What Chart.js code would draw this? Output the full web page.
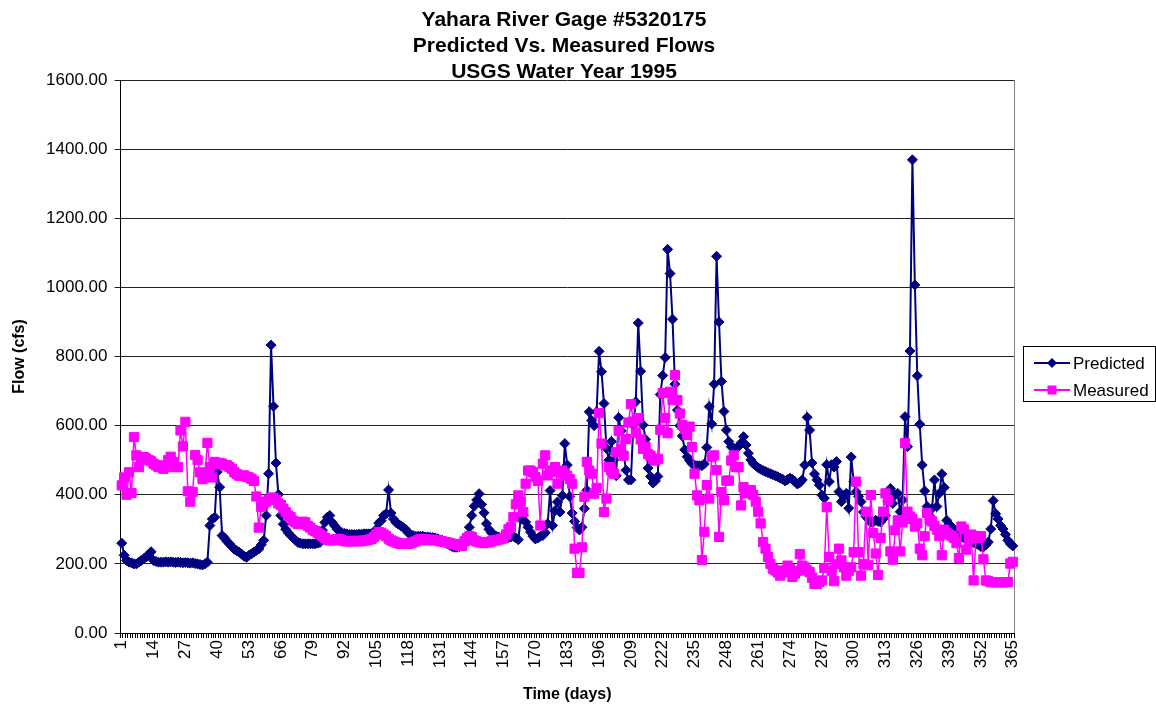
<!DOCTYPE html>
<html>
<head>
<meta charset="utf-8">
<script src="https://cdn.jsdelivr.net/npm/chart.js@4.4.0/dist/chart.umd.min.js"></script>
<style>
html,body{margin:0;padding:0;background:#ffffff;}
canvas{display:block;}
</style>
</head>
<body>
<canvas id="c" width="1156" height="708"></canvas>
<script>
// ---------- data ----------
const titleLines = ["Yahara River Gage #5320175", "Predicted Vs. Measured Flows", "USGS Water Year 1995"];
const xTitle = "Time (days)";
const yTitle = "Flow (cfs)";
const seriesNames = ["Predicted", "Measured"];

// categories: day numbers 1..365
const days = [];
for (let d = 1; d <= 365; d++) days.push(String(d));

const yTickMin = 0;
const yTickMax = 1600;
const yTickStep = 200;
const xLabelEvery = 13;

const predicted = [
260,225,210,205,203,200,200,205,210,215,
220,228,235,210,207,205,205,205,206,205,
206,205,204,205,204,203,204,203,202,203,
201,200,198,197,200,205,311,330,335,466,
422,282,275,265,258,250,242,238,234,228,
222,219,225,229,234,239,243,255,268,340,
461,833,656,492,401,340,315,300,290,282,
275,268,262,260,258,258,258,258,258,258,
260,262,297,320,335,340,320,310,300,295,
290,288,287,285,285,285,285,286,286,287,
287,287,287,290,300,318,325,340,345,414,
347,330,320,315,310,305,300,290,285,282,
280,280,280,280,278,278,277,276,275,273,
270,268,265,258,254,250,248,248,250,252,
258,280,306,340,367,385,403,372,348,316,
300,290,285,280,278,275,275,275,276,278,
280,275,270,330,340,321,306,292,280,272,
275,280,282,290,316,412,311,354,379,350,
398,548,486,395,347,323,305,298,306,360,
413,640,615,600,640,815,756,664,534,500,
554,500,455,623,585,520,471,443,443,602,
669,897,757,602,560,477,453,434,440,453,
690,745,797,1110,1040,908,720,645,600,570,
530,510,499,490,485,484,484,484,489,537,
655,605,720,1090,900,728,641,587,554,539,
535,534,540,550,568,544,520,501,490,484,
478,474,470,467,464,461,458,455,452,448,
445,440,444,448,444,438,431,435,443,486,
624,587,492,460,443,428,399,390,487,438,
487,480,496,409,380,395,404,361,509,438,
409,395,380,350,337,330,320,321,326,323,
321,330,340,380,418,375,400,404,351,385,
626,539,816,1369,1007,744,604,486,411,366,
340,360,443,366,404,460,421,326,315,307,
300,295,288,278,275,272,268,265,262,258,
255,250,249,255,263,301,383,345,330,311,
301,285,268,258,252
];

const measured = [
427,450,400,465,405,567,514,480,504,509,
505,500,497,490,485,480,485,475,480,500,
510,495,480,480,586,540,611,410,380,408,
515,500,465,445,460,550,480,450,495,490,
492,490,485,485,480,475,465,460,455,455,
456,452,450,446,440,395,305,365,375,380,
385,392,390,385,375,370,360,350,340,335,
325,320,315,318,322,320,310,305,298,295,
290,285,280,275,270,268,268,270,272,272,
268,266,265,265,265,267,266,265,266,268,
268,270,272,277,285,292,290,285,280,273,
268,265,262,260,258,258,258,258,260,262,
265,268,272,272,270,268,270,270,268,268,
265,265,263,262,260,258,257,255,252,252,
265,275,280,278,268,265,262,262,260,262,
262,265,268,268,270,272,275,285,300,306,
335,372,398,380,350,432,470,470,465,451,
440,311,490,514,456,466,470,480,432,465,
470,461,455,445,432,244,174,174,248,394,
495,470,461,403,420,636,548,350,389,480,
470,461,523,585,532,513,561,609,662,612,
578,622,560,533,538,518,513,504,499,504,
588,694,622,578,698,674,746,674,635,602,
590,573,597,538,461,398,384,211,293,428,
389,509,514,471,278,408,384,441,441,499,
514,480,480,369,422,404,413,413,399,380,
351,317,263,244,220,200,186,181,175,166,
175,181,195,185,162,172,180,228,195,190,
181,176,160,142,142,148,152,188,364,220,
180,150,200,244,210,190,166,180,190,234,
438,234,166,200,351,196,399,289,230,168,
275,351,404,384,236,212,297,326,236,320,
549,351,337,330,308,317,244,225,280,347,
328,323,310,299,280,225,299,290,285,280,
275,260,217,308,300,241,270,285,152,280,
275,280,213,152,150,147,147,147,147,147,
147,147,147,201,206
];

// ---------- styling ----------
const FONT = "'Liberation Sans', Arial, Helvetica, sans-serif";
const NAVY = "#000080";
const MAGENTA = "#FF00FF";

const overlay = {
  id: 'overlay',
  beforeDatasetsDraw(chart) {
    const {ctx, chartArea: a} = chart;
    ctx.save();
    ctx.strokeStyle = '#808080';
    ctx.lineWidth = 1;
    ctx.beginPath();
    ctx.moveTo(Math.round(a.right) + 0.5, a.top);
    ctx.lineTo(Math.round(a.right) + 0.5, a.bottom);
    ctx.stroke();
    ctx.restore();
  },
  afterDraw(chart) {
    const ctx = chart.ctx;
    ctx.save();
    // title
    ctx.fillStyle = '#000';
    ctx.font = "bold 21px " + FONT;
    ctx.textAlign = 'center';
    ctx.textBaseline = 'alphabetic';
    const base = [26, 52, 78];
    titleLines.forEach((t, i) => ctx.fillText(t, 564, base[i]));
    // legend
    ctx.strokeStyle = '#000';
    ctx.lineWidth = 1;
    ctx.strokeRect(1023.5, 346.5, 132, 55);
    const items = [
      {name: seriesNames[0], color: NAVY, y: 363, shape: 'diamond'},
      {name: seriesNames[1], color: MAGENTA, y: 390, shape: 'square'}
    ];
    items.forEach(it => {
      ctx.strokeStyle = it.color;
      ctx.fillStyle = it.color;
      ctx.lineWidth = 2;
      ctx.beginPath();
      ctx.moveTo(1034, it.y);
      ctx.lineTo(1070, it.y);
      ctx.stroke();
      ctx.beginPath();
      if (it.shape === 'diamond') {
        ctx.moveTo(1052, it.y - 5); ctx.lineTo(1057, it.y);
        ctx.lineTo(1052, it.y + 5); ctx.lineTo(1047, it.y);
        ctx.closePath();
      } else {
        ctx.rect(1047.5, it.y - 4.5, 9, 9);
      }
      ctx.fill();
      ctx.fillStyle = '#000';
      ctx.font = "17px " + FONT;
      ctx.textAlign = 'left';
      ctx.textBaseline = 'middle';
      ctx.fillText(it.name, 1073, it.y + 1);
    });
    ctx.restore();
  }
};

new Chart(document.getElementById('c').getContext('2d'), {
  type: 'line',
  data: {
    labels: days,
    datasets: [
      {
        label: seriesNames[0], data: predicted,
        borderColor: NAVY, backgroundColor: NAVY, borderWidth: 2,
        pointStyle: 'rectRot', pointRadius: 5, pointBorderWidth: 1,
        pointBackgroundColor: NAVY, pointBorderColor: NAVY,
        tension: 0, order: 2
      },
      {
        label: seriesNames[1], data: measured,
        borderColor: MAGENTA, backgroundColor: MAGENTA, borderWidth: 1.5,
        pointStyle: 'rect', pointRadius: 6.5, pointBorderWidth: 1,
        pointBackgroundColor: MAGENTA, pointBorderColor: MAGENTA,
        tension: 0, order: 1
      }
    ]
  },
  options: {
    responsive: false,
    animation: false,
    devicePixelRatio: 1,
    layout: {padding: {top: 80, right: 142, left: 0, bottom: 0}},
    plugins: {legend: {display: false}, title: {display: false}, tooltip: {enabled: false}},
    scales: {
      x: {
        type: 'category',
        offset: true,
        afterFit(s) { s.height = 75; },
        grid: {display: true, drawOnChartArea: false, offset: true, drawTicks: true, tickLength: 5, color: '#000'},
        border: {display: true, color: '#000', width: 1},
        ticks: {
          autoSkip: false, maxRotation: 90, minRotation: 90, padding: 2, color: '#000',
          font: {family: FONT, size: 17},
          callback(v, i) { return i % xLabelEvery === 0 ? days[i] : ''; }
        },
        title: {display: true, text: xTitle, color: '#000', font: {family: FONT, size: 16, weight: 'bold'}, padding: {top: 0, bottom: 4}}
      },
      y: {
        min: yTickMin, max: yTickMax,
        afterFit(s) { s.width = 120.5; },
        grid: {color: '#222', lineWidth: 1, drawTicks: true, tickLength: 6},
        border: {display: true, color: '#000', width: 1},
        ticks: {stepSize: yTickStep, padding: 7, color: '#000', font: {family: FONT, size: 17}, callback: v => Number(v).toFixed(2)},
        title: {display: true, text: yTitle, color: '#000', font: {family: FONT, size: 16, weight: 'bold'}, padding: {top: 10, bottom: 0}}
      }
    }
  },
  plugins: [overlay]
});
</script>
</body>
</html>
